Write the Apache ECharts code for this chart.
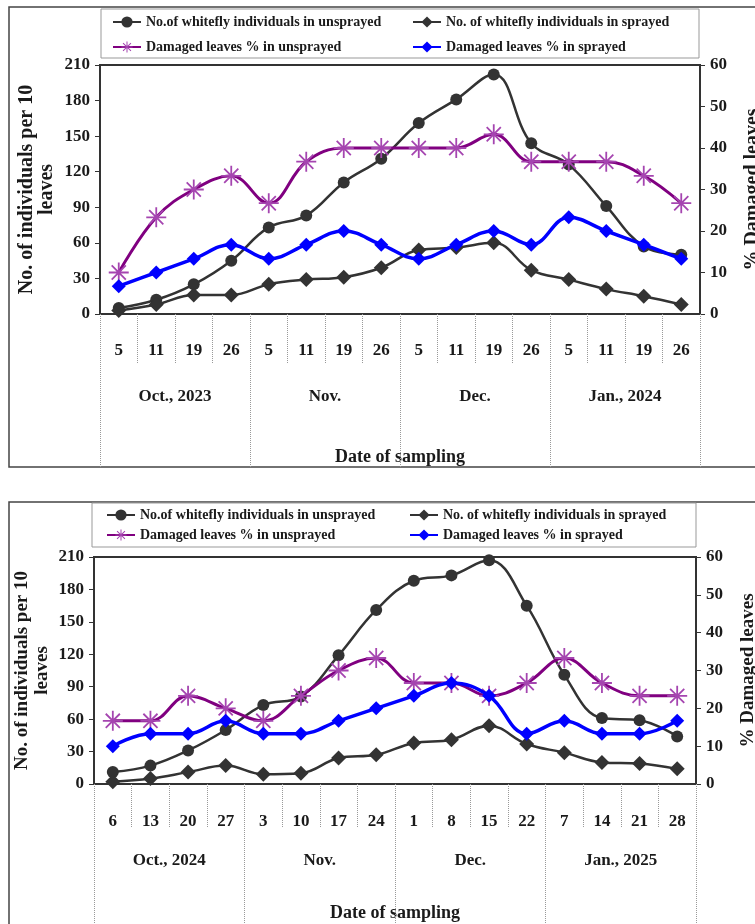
<!DOCTYPE html>
<html>
<head>
<meta charset="utf-8">
<script src="https://cdn.jsdelivr.net/npm/echarts@6/dist/echarts.min.js"></script>
<style>
html,body{margin:0;padding:0;background:#fff;}
#c{width:755px;height:924px;}
</style>
</head>
<body>
<div id="c"></div>
<script>
// ---------- data ----------
const cats1 = ['5','11','19','26','5','11','19','26','5','11','19','26','5','11','19','26'];
const months1 = ['Oct., 2023','Nov.','Dec.','Jan., 2024'];
const unsprayedCount1 = [5,12,25,45,73,83,111,131,161,181,202,144,126,91,57,50];
const sprayedCount1 = [3,8,16,16,25,29,31,39,54,56,60,37,29,21,15,8];
const damagedUnsprayed1 = [10,23.3,30,33.3,26.7,36.7,40,40,40,40,43.3,36.7,36.7,36.7,33.3,26.7];
const damagedSprayed1 = [6.7,10,13.3,16.7,13.3,16.7,20,16.7,13.3,16.7,20,16.7,23.3,20,16.7,13.3];

const cats2 = ['6','13','20','27','3','10','17','24','1','8','15','22','7','14','21','28'];
const months2 = ['Oct., 2024','Nov.','Dec.','Jan., 2025'];
const unsprayedCount2 = [11,17,31,50,73,81,119,161,188,193,207,165,101,61,59,44];
const sprayedCount2 = [2,5,11,17,9,10,24,27,38,41,54,37,29,20,19,14];
const damagedUnsprayed2 = [16.7,16.7,23.3,20,16.7,23.3,30,33.3,26.7,26.7,23.3,26.7,33.3,26.7,23.3,23.3];
const damagedSprayed2 = [10,13.3,13.3,16.7,13.3,13.3,16.7,20,23.3,26.7,23.3,13.3,16.7,13.3,13.3,16.7];

const leftTicks = [0,210,30];
const rightTicks = [0,60,10];

const names = ['No.of whitefly individuals in unsprayed','No. of whitefly individuals in sprayed','Damaged leaves % in unsprayed','Damaged leaves % in sprayed'];

// ---------- style ----------
const FONT = 'Liberation Serif';
const TXT = '#1a1a1a';
const ASTER = 'path://M9.1 0L10.9 0L10.9 20L9.1 20Z M3.566 2.294L17.706 16.434L16.434 17.706L2.294 3.566Z M17.706 3.566L3.566 17.706L2.294 16.434L16.434 2.294Z M0 9.1L20 9.1L20 10.9L0 10.9Z';

const chart = echarts.init(document.getElementById('c'), null, {renderer:'canvas'});

function gridAxes(gi, cats, months, cfg){
  const xs = [
    {type:'category', gridIndex:gi, data:cats, position:'bottom', offset:0, boundaryGap:true,
     axisLine:{show:true, lineStyle:{color:'#333', width:2}},
     axisTick:{show:true, interval:0, alignWithLabel:false, length:cfg.shortTick, lineStyle:{color:'#999', type:'dotted', width:1}},
     axisLabel:{interval:0, margin:cfg.catMargin, fontFamily:FONT, fontWeight:'bold', fontSize:17, color:TXT},
     splitLine:{show:false}},
    {type:'category', gridIndex:gi, data:months, position:'bottom', offset:0, boundaryGap:true,
     axisLine:{show:false},
     axisTick:{show:true, interval:0, alignWithLabel:false, length:cfg.longTick, lineStyle:{color:'#999', type:'dotted', width:1}},
     axisLabel:{interval:0, margin:cfg.monthMargin, fontFamily:FONT, fontWeight:'bold', fontSize:17, color:TXT},
     name:'Date of sampling', nameLocation:'middle', nameGap:cfg.dateGap, nameMoveOverlap:false,
     nameTextStyle:{fontFamily:FONT, fontWeight:'bold', fontSize:18, color:TXT},
     splitLine:{show:false}}
  ];
  const ys = [
    {type:'value', gridIndex:gi, position:'left', min:leftTicks[0], max:leftTicks[1], interval:leftTicks[2],
     axisLine:{show:true, lineStyle:{color:'#333', width:2}},
     axisTick:{show:true, length:5, lineStyle:{color:'#333'}},
     axisLabel:{margin:10, fontFamily:FONT, fontWeight:'bold', fontSize:17, color:TXT},
     splitLine:{show:false},
     name:'No. of individuals per 10\nleaves', nameLocation:'middle', nameRotate:90, nameGap:cfg.leftGap, nameMoveOverlap:false,
     nameTextStyle:{fontFamily:FONT, fontWeight:'bold', fontSize:cfg.titleSize, color:TXT, lineHeight:20}},
    {type:'value', gridIndex:gi, position:'right', min:rightTicks[0], max:rightTicks[1], interval:rightTicks[2],
     axisLine:{show:true, lineStyle:{color:'#333', width:2}},
     axisTick:{show:true, inside:false, length:5, lineStyle:{color:'#333'}},
     axisLabel:{margin:10, fontFamily:FONT, fontWeight:'bold', fontSize:17, color:TXT},
     splitLine:{show:false},
     name:'% Damaged leaves', nameLocation:'middle', nameRotate:90, nameGap:cfg.rightGap, nameMoveOverlap:false,
     nameTextStyle:{fontFamily:FONT, fontWeight:'bold', fontSize:cfg.titleSize, color:TXT}}
  ];
  return {xs, ys};
}

const a1 = gridAxes(0, cats1, months1, {shortTick:49, longTick:153, catMargin:28, monthMargin:74, dateGap:134, leftGap:43, rightGap:43, titleSize:20});
const a2 = gridAxes(1, cats2, months2, {shortTick:44, longTick:160, catMargin:29, monthMargin:68, dateGap:120, leftGap:42, rightGap:43, titleSize:19});

function seriesFor(xi, yl, yr, c, s, du, ds){
  return [
    {name:names[0], type:'line', xAxisIndex:xi, yAxisIndex:yl, data:c, smooth:0.4,
     symbol:'circle', symbolSize:12, itemStyle:{color:'#333'}, lineStyle:{color:'#333', width:2.5}, z:2},
    {name:names[1], type:'line', xAxisIndex:xi, yAxisIndex:yl, data:s, smooth:0.4,
     symbol:'diamond', symbolSize:15, itemStyle:{color:'#333'}, lineStyle:{color:'#333', width:2.5}, z:3},
    {name:names[2], type:'line', xAxisIndex:xi, yAxisIndex:yr, data:du, smooth:0.4,
     symbol:ASTER, symbolKeepAspect:true, symbolSize:20, itemStyle:{color:'#a545b0'}, lineStyle:{color:'#800080', width:3}, z:4},
    {name:names[3], type:'line', xAxisIndex:xi, yAxisIndex:yr, data:ds, smooth:0.4,
     symbol:'diamond', symbolSize:14, itemStyle:{color:'#0000ff'}, lineStyle:{color:'#0000ff', width:3.5}, z:5}
  ];
}

function legendCol(left, top, gap, data){
  return {orient:'vertical', left:left, top:top, padding:0, itemGap:gap, itemWidth:28, itemHeight:14,
    data:data, selectedMode:false,
    textStyle:{fontFamily:FONT, fontWeight:'bold', fontSize:14, color:TXT, lineHeight:16}};
}

const option = {
  animation:false,
  backgroundColor:'#fff',
  grid:[
    {left:100, top:65, width:600, height:249, show:true, borderColor:'#333', borderWidth:2, containLabel:false, outerBoundsMode:'none'},
    {left:94, top:557, width:602, height:227, show:true, borderColor:'#333', borderWidth:2, containLabel:false, outerBoundsMode:'none'}
  ],
  xAxis:[...a1.xs, ...a2.xs],
  yAxis:[...a1.ys, ...a2.ys],
  legend:[
    legendCol(112, 14, 9, [names[0], names[2]]),
    legendCol(412, 14, 9, [names[1], names[3]]),
  ],
  series:[
    ...seriesFor(0, 0, 1, unsprayedCount1, sprayedCount1, damagedUnsprayed1, damagedSprayed1),
    ...seriesFor(2, 2, 3, unsprayedCount2, sprayedCount2, damagedUnsprayed2, damagedSprayed2)
  ],
  graphic:[
    {type:'rect', shape:{x:9, y:7, width:780, height:460}, style:{fill:null, stroke:'#444', lineWidth:1.5}, silent:true, z:-1},
    {type:'rect', shape:{x:9, y:502, width:780, height:460}, style:{fill:null, stroke:'#444', lineWidth:1.5}, silent:true, z:-1},
    {type:'rect', shape:{x:101, y:9, width:598, height:49}, style:{fill:null, stroke:'#999', lineWidth:1}, silent:true, z:-1},
    {type:'rect', shape:{x:92, y:503, width:604, height:44}, style:{fill:null, stroke:'#999', lineWidth:1}, silent:true, z:-1}
  ]
};
option.legend.push(legendCol(106, 507, 4, [names[0], names[2]]));
option.legend.push(legendCol(409, 507, 4, [names[1], names[3]]));

chart.setOption(option);
</script>
</body>
</html>
